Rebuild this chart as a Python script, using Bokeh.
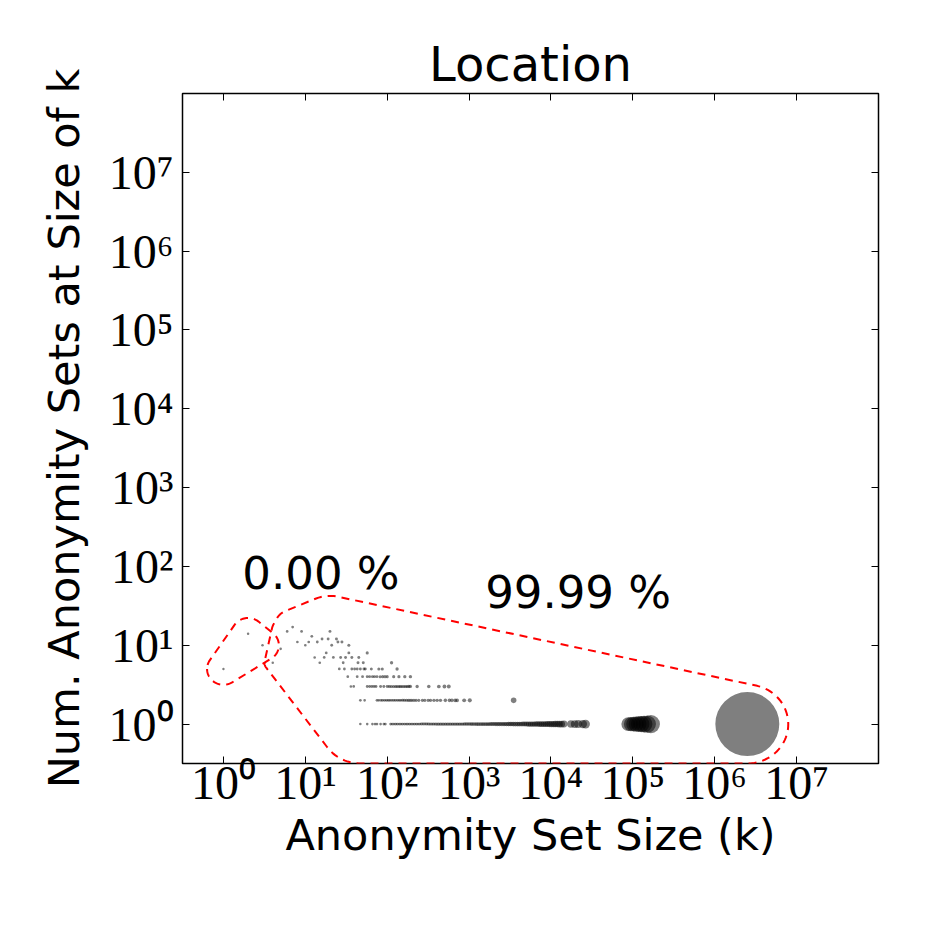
import numpy as np
from bokeh.plotting import figure
from bokeh.models import LogAxis, FixedTicker, Range1d, ColumnDataSource
from bokeh.embed import file_html
from bokeh.resources import INLINE
from bokeh.core.properties import value

# ---------------- data ----------------
# k values (anonymity set size) for each "number of sets" count
count_1 = [47, 57, 66, 71, 75, 83, 91, 95, 110, 115, 121, 127, 133, 140, 147, 154, 162,
           170, 178, 187, 196, 206, 216, 227, 238, 250, 262, 275, 289, 303, 318, 334,
           351, 368, 386, 405, 425, 446, 468, 491, 516, 541, 568, 596, 626, 657, 690,
           724, 760, 798, 838, 880, 924, 970, 1020, 1070, 1120, 1180, 1240, 1300, 1370,
           1440, 1510, 1590, 1670, 1750, 1840, 1930, 2030, 2130, 2240, 2350, 2470, 2600,
           2730, 2870, 3020, 3180, 3340, 3510, 3700, 3900, 4100, 4320, 4550, 4790, 5050,
           5320, 5610, 5910, 6230, 6570, 6930, 7310, 7710, 8130, 8580, 9050, 9550, 10100,
           10700, 11300, 12000, 12700, 13500, 14400, 17500, 19500, 21500, 24500, 26500,
           88000, 95000, 102000, 110000, 118000, 127000, 137000, 150000, 166000, 2500000]
count_2 = [47, 53, 75, 79, 84, 88, 93, 98, 103, 108, 114, 120, 126, 133, 140, 147, 155,
           163, 172, 181, 190, 200, 212, 225, 243, 269, 288, 316, 338, 372, 407, 447, 513,
           575, 617, 676, 714, 871, 1020, 3500]
count_3 = [36, 39, 57, 61, 65, 69, 73, 83, 91, 100, 106, 112, 119, 126, 132, 139, 145,
           152, 160, 168, 176, 184, 192, 232, 322, 427, 500, 565]
count_4 = [33, 43, 50, 57, 61, 66, 70, 75, 82, 88, 94, 100, 120, 139, 164, 192]
count_5 = [1, 26, 30, 37, 40, 43, 47, 52, 54, 64, 79, 87, 132]
count_6 = [4, 15, 29, 44, 51, 113]
count_7 = [13, 17, 22, 27, 31, 37, 45]
count_8 = [18, 34, 57]
count_9 = [5]
count_10 = [3, 10, 21, 34]
count_11 = [8, 11, 14, 25, 28]
count_12 = [16, 19, 24]
count_13 = [12]
count_14 = [2]
count_15 = [6, 9, 20]
count_17 = [7]

rows = [(1, count_1), (2, count_2), (3, count_3), (4, count_4), (5, count_5),
        (6, count_6), (7, count_7), (8, count_8), (9, count_9), (10, count_10),
        (11, count_11), (12, count_12), (13, count_13), (14, count_14),
        (15, count_15), (17, count_17)]

group_split_k = 3            # group A: k <= 3, group B: k > 3
group_labels = ["0.00 %", "99.99 %"]
label_x = [1.7, 1570]
label_y = [81, 47]

title_text = "Location"
x_label = "Anonymity Set Size (k)"
y_label = "Num. Anonymity Sets at Size of k"
tick_values = [1, 10, 100, 1000, 10**4, 10**5, 10**6, 10**7]
tick_labels = ["10⁰", "10¹", "10²", "10³", "10⁴", "10⁵", "10⁶", "10⁷"]

# ---------------- build columns ----------------
k = np.array([kv for n, ks in rows for kv in ks], dtype=float)
n = np.array([n for n, ks in rows for kv in ks], dtype=float)
sizes = 2.3 + 0.039 * np.sqrt(k * n)
src = ColumnDataSource(dict(k=k, n=n, size=sizes))


# ---------------- rounded hulls (log space) ----------------
def convex_hull(points):
    pts = sorted(set(points))
    if len(pts) <= 2:
        return pts

    def cross(o, a, b):
        return (a[0] - o[0]) * (b[1] - o[1]) - (a[1] - o[1]) * (b[0] - o[0])

    lower = []
    for q in pts:
        while len(lower) >= 2 and cross(lower[-2], lower[-1], q) <= 0:
            lower.pop()
        lower.append(q)
    upper = []
    for q in reversed(pts):
        while len(upper) >= 2 and cross(upper[-2], upper[-1], q) <= 0:
            upper.pop()
        upper.append(q)
    return lower[:-1] + upper[:-1]


def rounded_hull(lx, ly, r):
    ang = np.linspace(0, 2 * np.pi, 90, endpoint=False)
    px = (lx[:, None] + r[:, None] * np.cos(ang)).ravel()
    py = (ly[:, None] + r[:, None] * np.sin(ang)).ravel()
    h = convex_hull(list(zip(np.round(px, 6), np.round(py, 6))))
    h.append(h[0])
    h = np.array(h)
    return 10 ** h[:, 0], 10 ** h[:, 1]


lk, ln = np.log10(k), np.log10(n)
mA = k <= group_split_k
mB = ~mA
rA = np.full(mA.sum(), 0.2)
rB = np.clip(0.1 + 0.5 * (lk[mB] - 0.6), 0.1, 0.5)
hAx, hAy = rounded_hull(lk[mA], ln[mA], rA)
hBx, hBy = rounded_hull(lk[mB], ln[mB], rB)

# ---------------- figure ----------------
p = figure(x_axis_type="log", y_axis_type="log",
           x_range=Range1d(10 ** -0.5, 10 ** 8), y_range=Range1d(10 ** -0.5, 10 ** 8),
           frame_width=696, frame_height=670,
           min_border_left=182, min_border_top=93, min_border_right=30, min_border_bottom=110,
           output_backend="svg", toolbar_location=None, title=title_text)

p.background_fill_color = "white"
p.border_fill_color = "white"
p.outline_line_color = "black"
p.outline_line_width = 1.5
p.grid.visible = False

p.title.align = "center"
p.title.text_font = "DejaVu Sans"
p.title.text_font_size = "48px"
p.title.text_font_style = "normal"
p.title.text_color = "black"
p.title.standoff = 3

ticker = FixedTicker(ticks=tick_values, minor_ticks=[])
overrides = {t: lab for t, lab in zip(tick_values, tick_labels)}

for ax in (p.xaxis[0], p.yaxis[0]):
    ax.ticker = ticker
    ax.major_label_overrides = overrides
    ax.major_label_text_font = "Liberation Serif"
    ax.major_label_text_font_size = "48px"
    ax.major_label_text_color = "black"
    ax.axis_label_text_font = "DejaVu Sans"
    ax.axis_label_text_font_size = "43px"
    ax.axis_label_text_font_style = "normal"
    ax.axis_label_text_color = "black"
    ax.major_tick_in = 7
    ax.major_tick_out = 0
    ax.major_tick_line_color = "black"
    ax.minor_tick_line_color = None
    ax.axis_line_color = None

p.xaxis[0].axis_label = x_label
p.yaxis[0].axis_label = y_label
p.xaxis[0].major_label_standoff = -8
p.yaxis[0].major_label_standoff = 9
p.xaxis[0].axis_label_standoff = -2
p.yaxis[0].axis_label_standoff = 17

for loc in ("above", "right"):
    ax = LogAxis(ticker=ticker, major_label_text_font_size="6px",
                 major_label_text_alpha=0.0,
                 major_tick_in=7, major_tick_out=0, minor_tick_line_color=None,
                 axis_line_color=None, major_label_standoff=0)
    p.add_layout(ax, loc)

p.scatter("k", "n", source=src, size="size", fill_color="black", fill_alpha=0.5,
          line_color=None)

for hx, hy in ((hAx, hAy), (hBx, hBy)):
    p.line(hx, hy, line_color="red", line_width=2, line_dash="8 6")

p.text(x=label_x, y=label_y, text=group_labels, text_font_size="45px",
       text_font=value("DejaVu Sans"), text_align="left", text_baseline="alphabetic",
       text_color="black")

open("out.html", "w").write(file_html(p, INLINE))
